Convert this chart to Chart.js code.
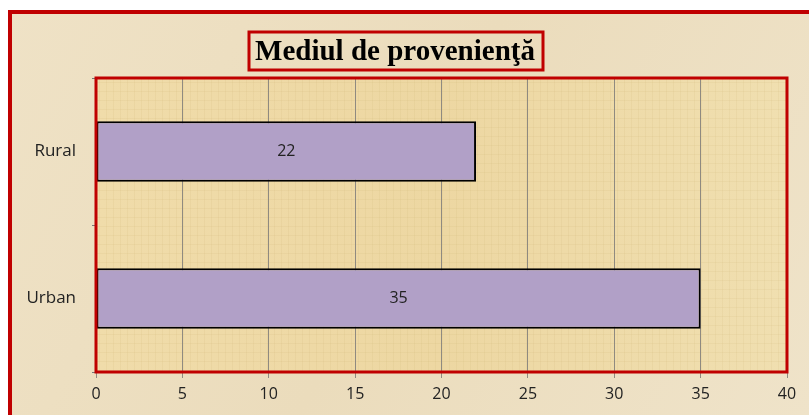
<!DOCTYPE html>
<html lang="ro">
<head>
<meta charset="UTF-8">
<title>Mediul de provenienţă</title>
<style>
  html, body { margin: 0; padding: 0; background: #fff; }
  #wrap { width: 809px; height: 415px; }
</style>
</head>
<body>
<div id="wrap"><canvas id="myc" width="809" height="415"></canvas></div>
<script src="https://cdn.jsdelivr.net/npm/chart.js"></script>
<script>
// data
var categories = ['Rural', 'Urban'];
var values = [22, 35];
var xTicks = [0, 5, 10, 15, 20, 25, 30, 35, 40];
var chartTitle = 'Mediul de provenienţă';

// background + borders, drawn around the library's chart area
var frame = {
  id: 'frame',
  beforeDraw: function(chart) {
    var c = chart.ctx, a = chart.chartArea;
    c.save();
    c.fillStyle = '#ffffff';
    c.fillRect(0, 0, chart.width, chart.height);
    var g = c.createLinearGradient(0, 0, chart.width, chart.height);
    g.addColorStop(0, '#efe2c6');
    g.addColorStop(0.5, '#ebdcbc');
    g.addColorStop(1, '#efe3c9');
    c.fillStyle = g;
    c.fillRect(10, 11, chart.width, chart.height);
    // plot area papyrus colour
    var p = c.createLinearGradient(a.left, 0, a.right, 0);
    p.addColorStop(0, '#f0dcaa');
    p.addColorStop(0.5, '#edd7a2');
    p.addColorStop(1, '#f0dfb0');
    c.fillStyle = p;
    c.fillRect(a.left, a.top, a.right - a.left, a.bottom - a.top);
    // faint fibre lines
    c.strokeStyle = 'rgba(200,170,100,0.10)';
    c.lineWidth = 1;
    for (var x = a.left + 3; x < a.right; x += 7) {
      c.beginPath(); c.moveTo(x + 0.5, a.top); c.lineTo(x + 0.5, a.bottom); c.stroke();
    }
    for (var y = a.top + 4; y < a.bottom; y += 9) {
      c.beginPath(); c.moveTo(a.left, y + 0.5); c.lineTo(a.right, y + 0.5); c.stroke();
    }
    // outer red frame
    c.strokeStyle = '#c00000';
    c.lineWidth = 4;
    c.strokeRect(10, 12, chart.width + 20, chart.height + 20);
    c.restore();
  },
  afterDatasetsDraw: function(chart) {
    var c = chart.ctx, a = chart.chartArea;
    c.save();
    // plot area red border
    c.strokeStyle = '#c00000';
    c.lineWidth = 3;
    c.strokeRect(a.left, a.top, a.right - a.left, a.bottom - a.top);
    // value labels in the bars
    c.fillStyle = '#222';
    c.font = '16px "Open Sans", sans-serif';
    c.textAlign = 'center';
    c.textBaseline = 'middle';
    chart.getDatasetMeta(0).data.forEach(function(bar, i) {
      c.fillText(values[i], (bar.base + bar.x) / 2, bar.y);
    });
    // title box
    c.strokeStyle = '#c00000';
    c.lineWidth = 3;
    c.strokeRect(249, 32, 294, 38);
    c.fillStyle = '#000';
    c.font = 'bold 29px "Liberation Serif", serif';
    c.textAlign = 'left';
    c.textBaseline = 'alphabetic';
    var w = c.measureText(chartTitle).width;
    c.translate(255, 60);
    c.scale(280 / w, 1);
    c.fillText(chartTitle, 0, 0);
    c.restore();
  }
};

var ctx = document.getElementById('myc').getContext('2d');
var myChart = new Chart(ctx, {
  type: 'bar',
  data: {
    labels: categories,
    datasets: [{
      label: 'Mediul de provenienţă',
      data: values,
      backgroundColor: '#b1a0c7',
      borderColor: '#000000',
      borderWidth: 2,
      borderSkipped: false,
      categoryPercentage: 0.41,
      barPercentage: 1.0
    }]
  },
  options: {
    indexAxis: 'y',
    responsive: false,
    animation: false,
    layout: { padding: { left: 0, top: 78, right: 22, bottom: 0 } },
    plugins: {
      legend: { display: false },
      title: { display: false },
      tooltip: { enabled: false }
    },
    scales: {
      x: {
        min: 0,
        max: 40,
        afterBuildTicks: function(s) { s.ticks = xTicks.map(function(v) { return { value: v }; }); },
        afterFit: function(s) { s.height = 43; },
        border: { display: false },
        grid: { color: '#8f8a80', lineWidth: 1, tickLength: 6, drawTicks: true },
        ticks: {
          color: '#222',
          padding: 7,
          maxRotation: 0,
          font: { family: 'Open Sans', size: 16 }
        }
      },
      y: {
        afterFit: function(s) { s.width = 96; },
        border: { display: false },
        grid: { drawOnChartArea: false, color: '#777', tickLength: 4, offset: true },
        ticks: {
          color: '#222',
          padding: 16,
          font: { family: 'Open Sans', size: 17 }
        }
      }
    }
  },
  plugins: [frame]
});
</script>
</body>
</html>
